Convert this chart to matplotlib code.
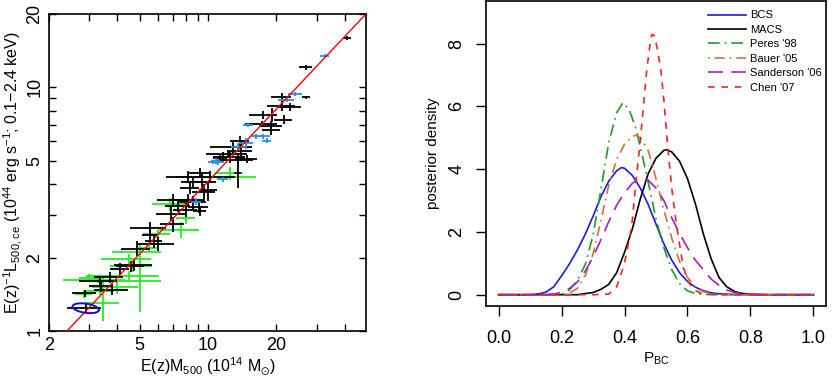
import numpy as np
import matplotlib as mpl
mpl.use('Agg')
import matplotlib.pyplot as plt

mpl.rcParams['font.family'] = 'Liberation Sans'
mpl.rcParams['mathtext.fontset'] = 'custom'
mpl.rcParams['mathtext.rm'] = 'Liberation Sans'
mpl.rcParams['mathtext.it'] = 'Liberation Sans:italic'
mpl.rcParams['mathtext.default'] = 'regular'

# ---- left panel: luminosity vs mass (x, y, xerr, yerr) ----
blk_m = [41.0, 26.9, 21.1, 26.9, 21.1, 22.9, 17.5, 19.2, 21.5, 18.9, 17.3, 19.0, 13.8, 12.9,
         14.0, 11.6, 12.5, 14.8, 13.6, 11.3, 13.5, 9.21, 8.17, 10.2, 8.6, 9.4, 8.3, 9.6, 10.0,
         7.04, 8.2, 8.6, 7.4, 9.1, 6.9, 8.0, 9.2, 7.0, 5.56, 5.56, 6.0, 5.8, 4.85, 4.6, 4.75,
         4.1, 3.7, 3.35, 3.8, 3.4, 2.88, 2.9, 12.3]
blk_l = [16.0, 12.1, 9.13, 9.1, 8.38, 8.3, 7.7, 7.7, 7.37, 6.95, 7.1, 6.66, 6.0, 5.7,
         5.5, 5.2, 5.2, 5.1, 5.05, 5.15, 4.46, 4.46, 4.3, 4.3, 4.1, 4.1, 3.85, 3.72, 3.78,
         3.46, 3.46, 3.37, 3.27, 3.24, 3.03, 3.14, 3.11, 2.75, 2.64, 2.48, 2.28, 2.35, 2.18, 1.84, 1.86,
         1.8, 1.66, 1.6, 1.48, 1.53, 1.43, 1.24, 5.35]
blk_merr = [1.7, 1.9, 2.1, 1.1, 3.0, 2.8, 2.4, 1.0, 2.0, 2.2, 2.8, 1.8, 1.3, 2.7,
            1.6, 1.0, 2.0, 1.6, 2.2, 0.8, 0.5, 1.0, 1.6, 3.0, 1.0, 1.4, 0.8, 1.1, 0.9,
            1.1, 1.3, 1.2, 0.9, 0.9, 1.0, 0.95, 0.6, 0.85, 1.0, 0.45, 1.1, 0.5, 0.7, 0.65, 0.9,
            0.4, 0.55, 0.65, 0.65, 0.4, 0.35, 0.5, 2.5]
blk_lerr = [0.3, 0.3, 0.35, 0.15, 0.4, 0.3, 0.3, 0.5, 0.3, 0.35, 0.2, 0.3, 0.3, 0.3,
            0.5, 0.25, 0.3, 0.2, 0.3, 0.2, 0.6, 0.2, 0.25, 0.25, 0.2, 0.3, 0.2, 0.3, 0.35,
            0.2, 0.2, 0.2, 0.2, 0.2, 0.2, 0.2, 0.15, 0.2, 0.15, 0.2, 0.15, 0.15, 0.15, 0.1, 0.1,
            0.1, 0.08, 0.08, 0.08, 0.08, 0.05, 0.05, 0.2]

blu_m = [32.6, 24.1, 22.2, 15.0, 17.5, 16.3, 18.1, 14.7, 13.6, 10.5, 11.1, 11.6, 8.9, 10.8]
blu_l = [13.5, 9.4, 8.9, 7.0, 6.31, 6.31, 6.05, 5.9, 5.7, 4.95, 4.95, 4.2, 3.4, 5.0]
blu_merr = [1.6, 1.7, 1.8, 0.8, 1.2, 0.8, 0.9, 1.0, 1.0, 0.5, 0.6, 0.6, 0.45, 0.5]
blu_lerr = [0.2, 0.2, 0.2, 0.15, 0.15, 0.15, 0.15, 0.3, 0.2, 0.1, 0.15, 0.1, 0.1, 0.15]

grn_m = [12.5, 12.5, 6.8, 8.0, 7.6, 5.0, 5.5, 4.7, 5.0, 4.5, 3.3, 3.45, 3.35, 3.45,
         3.0, 2.85, 4.0, 4.5, 6.0]
grn_l = [4.27, 4.46, 3.31, 2.91, 2.6, 2.1, 2.2, 1.84, 1.6, 1.68, 1.62, 1.61, 1.46, 1.3,
         1.65, 1.42, 1.52, 1.97, 2.5]
grn_merr = [3.8, 1.8, 1.1, 0.8, 1.5, 1.2, 0.6, 1.0, 1.2, 1.6, 1.0, 0.4, 0.5, 0.6,
            0.3, 0.25, 0.9, 1.1, 0.8]
grn_lerr = [0.1, 0.25, 0.2, 0.15, 0.2, 0.15, 0.1, 0.1, 0.4, 0.08, 0.05, 0.08, 0.06, 0.2,
            0.06, 0.05, 0.1, 0.1, 0.1]

# best-fit relation and error ellipse
fit_norm = 1.0      # L at pivot
fit_pivot = 2.4     # mass where L = fit_norm
fit_slope = 0.99
ell_m, ell_l = 2.9, 1.24
ell_a, ell_b, ell_tilt = 0.058, 0.019, 0.12   # half axes in dex, tilt

# ---- right panel: posterior density curves ----
bcs_x = [0.0, 0.1, 0.125, 0.15, 0.175, 0.2, 0.225, 0.25, 0.275, 0.3, 0.325, 0.35, 0.375, 0.39,
         0.4, 0.425, 0.45, 0.475, 0.5, 0.525, 0.55, 0.575, 0.6, 0.625, 0.65, 0.675, 0.7, 0.75, 0.8, 1.0]
bcs_y = [0.0, 0.0, 0.02, 0.08, 0.25, 0.6, 0.98, 1.42, 1.92, 2.5, 3.12, 3.62, 3.95, 4.05,
         4.03, 3.8, 3.4, 2.88, 2.25, 1.62, 1.1, 0.7, 0.42, 0.24, 0.13, 0.06, 0.03, 0.005, 0.0, 0.0]

macs_x = [0.0, 0.25, 0.3, 0.325, 0.35, 0.375, 0.4, 0.425, 0.45, 0.475, 0.5, 0.525, 0.533, 0.55,
          0.575, 0.6, 0.625, 0.65, 0.675, 0.7, 0.725, 0.75, 0.775, 0.8, 0.85, 1.0]
macs_y = [0.0, 0.0, 0.07, 0.17, 0.33, 0.7, 1.35, 2.1, 3.05, 3.85, 4.35, 4.6, 4.62, 4.55,
          4.25, 3.7, 2.9, 1.95, 1.15, 0.55, 0.25, 0.1, 0.04, 0.01, 0.0, 0.0]

peres_x = [0.0, 0.175, 0.2, 0.225, 0.25, 0.275, 0.3, 0.316, 0.325, 0.35, 0.375, 0.395, 0.415,
           0.437, 0.464, 0.49, 0.5, 0.525, 0.55, 0.575, 0.6, 0.625, 0.65, 0.7, 1.0]
peres_y = [0.0, 0.0, 0.02, 0.15, 0.45, 0.95, 1.9, 2.82, 3.35, 4.85, 5.8, 6.12, 5.9,
           5.27, 4.1, 2.9, 2.4, 1.5, 0.8, 0.35, 0.12, 0.04, 0.01, 0.0, 0.0]

bauer_x = [0.0, 0.2, 0.225, 0.25, 0.275, 0.3, 0.325, 0.35, 0.375, 0.4, 0.425, 0.437, 0.45,
           0.475, 0.5, 0.525, 0.55, 0.575, 0.6, 0.625, 0.65, 0.675, 0.7, 0.75, 1.0]
bauer_y = [0.0, 0.0, 0.05, 0.2, 0.6, 1.3, 2.35, 3.5, 4.3, 4.8, 5.05, 5.08, 5.0,
           4.6, 3.7, 2.7, 1.8, 1.05, 0.55, 0.25, 0.1, 0.03, 0.01, 0.0, 0.0]

sand_x = [0.0, 0.15, 0.175, 0.2, 0.225, 0.25, 0.275, 0.3, 0.325, 0.35, 0.375, 0.4, 0.425, 0.45,
          0.475, 0.5, 0.525, 0.55, 0.575, 0.6, 0.625, 0.65, 0.675, 0.7, 0.725, 0.75, 0.775, 0.8, 0.85, 1.0]
sand_y = [0.0, 0.0, 0.02, 0.08, 0.2, 0.4, 0.75, 1.2, 1.75, 2.33, 2.85, 3.25, 3.55, 3.72,
          3.65, 3.4, 3.0, 2.45, 1.95, 1.5, 1.1, 0.8, 0.5, 0.3, 0.15, 0.07, 0.03, 0.01, 0.0, 0.0]

chen_x = [0.0, 0.3, 0.35, 0.375, 0.39, 0.4, 0.417, 0.425, 0.437, 0.45, 0.46, 0.47, 0.48, 0.487,
          0.495, 0.505, 0.515, 0.525, 0.538, 0.55, 0.564, 0.575, 0.586, 0.6, 0.62, 0.65, 0.7, 1.0]
chen_y = [0.0, 0.0, 0.02, 0.25, 0.69, 1.0, 1.86, 2.4, 3.67, 4.9, 6.0, 7.1, 7.9, 8.3,
          8.25, 7.8, 7.2, 6.2, 4.63, 3.4, 2.3, 1.6, 0.92, 0.45, 0.15, 0.02, 0.0, 0.0]

curve_labels = ['BCS', 'MACS', "Peres '98", "Bauer '05", "Sanderson '06", "Chen '07"]

fig = plt.figure(figsize=(8.32, 3.77), dpi=100)

# left panel
ax1 = fig.add_axes([49/832, 1 - 331/377, 317/832, 317/377])
ekw = dict(fmt='none', capsize=0, elinewidth=1.3)
ax1.errorbar(grn_m, grn_l, xerr=grn_merr, yerr=grn_lerr, ecolor='#22ee22', zorder=2, **ekw)
ax1.errorbar(blk_m, blk_l, xerr=blk_merr, yerr=blk_lerr, ecolor='black', zorder=3, **ekw)
ax1.errorbar(blu_m, blu_l, xerr=blu_merr, yerr=blu_lerr, ecolor='#2a8ff0', zorder=4, **ekw)

mfit = np.array([1.5, 60.0])
ax1.plot(mfit, fit_norm * (mfit / fit_pivot) ** fit_slope, color='red', lw=1.0, zorder=5)

t = np.linspace(0, 2 * np.pi, 200)
ex = np.log10(ell_m) + ell_a * np.cos(t)
ey = np.log10(ell_l) + ell_b * np.sin(t) - ell_tilt * ell_a * np.cos(t)
ax1.plot(10 ** ex, 10 ** ey, color='#1010cc', lw=1.4, zorder=6)

ax1.set_xscale('log')
ax1.set_yscale('log')
ax1.set_xlim(2, 49.5)
ax1.set_ylim(1, 20)
xt = [2, 3, 4, 5, 6, 7, 8, 9, 10, 20, 30, 40]
yt = [1, 2, 3, 4, 5, 6, 7, 8, 9, 10, 20]
ax1.set_xticks(xt)
ax1.set_xticklabels([str(v) if v in (2, 5, 10, 20) else '' for v in xt])
ax1.set_yticks(yt)
ax1.set_yticklabels([str(v) if v in (1, 2, 5, 10, 20) else '' for v in yt],
                    rotation=90, va='center')
ax1.minorticks_off()
ax1.tick_params(direction='in', length=5, width=1, top=True, right=True, labelsize=13, pad=4)
ax1.set_xlabel(r'E(z)M$_{500}$ (10$^{14}$ M$_{\odot}$)', fontsize=11.5, labelpad=1)
ax1.set_ylabel(r'E(z)$^{-1}$L$_{500,ce}$ (10$^{44}$ erg s$^{-1}$; 0.1$-$2.4 keV)', fontsize=11.5, labelpad=2)
for s in ax1.spines.values():
    s.set_linewidth(1.2)

# right panel
ax2 = fig.add_axes([486/832, 1 - 306/377, 340/832, 305/377])
ax2.plot(bcs_x, bcs_y, color='#1a1aee', lw=1.2, label=curve_labels[0])
ax2.plot(macs_x, macs_y, color='black', lw=1.2, label=curve_labels[1])
ax2.plot(peres_x, peres_y, color='#1f9a2a', lw=1.2, linestyle=(0, (7, 3, 1, 3)), label=curve_labels[2])
ax2.plot(bauer_x, bauer_y, color='#d2703c', lw=1.2, linestyle=(0, (1, 3, 6, 3)), label=curve_labels[3])
ax2.plot(sand_x, sand_y, color='#a020c8', lw=1.2, linestyle=(0, (9, 5)), label=curve_labels[4])
ax2.plot(chen_x, chen_y, color='#ff2020', lw=1.2, linestyle=(0, (4, 4)), label=curve_labels[5])
ax2.set_xlim(-0.04, 1.04)
ax2.set_ylim(-0.36, 9.36)
ax2.set_xticks([0.0, 0.2, 0.4, 0.6, 0.8, 1.0])
ax2.set_xticklabels(['0.0', '0.2', '0.4', '0.6', '0.8', '1.0'])
ax2.set_yticks([0, 2, 4, 6, 8])
ax2.set_yticklabels(['0', '2', '4', '6', '8'], rotation=90, va='center')
ax2.tick_params(direction='out', length=7, width=1, labelsize=13, pad=8)
ax2.tick_params(axis='x', pad=10)
ax2.set_xlabel(r'P$_{BC}$', fontsize=11, labelpad=3)
ax2.set_ylabel('posterior density', fontsize=11, labelpad=6)
for s in ax2.spines.values():
    s.set_linewidth(1.2)
ax2.legend(loc='upper left', bbox_to_anchor=(0.625, 1.0), frameon=False, fontsize=8.0,
           handlelength=3.4, handletextpad=0.4, labelspacing=0.4, borderaxespad=0.45)

fig.savefig('out.png', dpi=100)
